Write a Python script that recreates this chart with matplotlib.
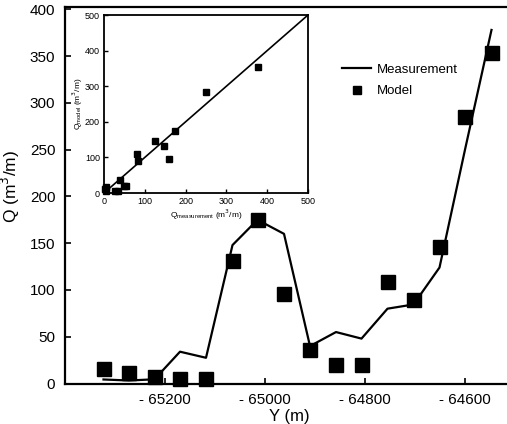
import matplotlib
matplotlib.use("Agg")
import matplotlib.pyplot as plt
from matplotlib.ticker import FuncFormatter, FixedLocator

plt.rcParams['font.family'] = ['Liberation Sans', 'DejaVu Sans']

# Data
y_pos = [-65323, -65272, -65221, -65170, -65118, -65065, -65015, -64962,
         -64910, -64858, -64807, -64755, -64703, -64651, -64600, -64547]
q_measurement = [4.3, 3.2, 4.5, 34, 27.5, 148, 175, 160,
                 40, 55, 48, 80, 84.5, 124, 250, 378]
q_model = [15.7, 10.7, 7, 5, 4.3, 131, 175, 95.5,
           35.6, 19.3, 19.3, 109, 88.8, 146, 285, 353]
x_ticks = [-65200, -65000, -64800, -64600]
y_ticks = [0, 50, 100, 150, 200, 250, 300, 350, 400]
inset_ticks = [0, 100, 200, 300, 400, 500]

W, H = 507, 424
fig = plt.figure(figsize=(W / 100, H / 100), dpi=100)

def px_axes(l, t, r, b):
    return [l / W, 1 - b / H, (r - l) / W, (b - t) / H]

ax = fig.add_axes(px_axes(65, 7.5, 514, 383.5))
ax.plot(y_pos, q_measurement, color='black', lw=1.6, label='Measurement')
ax.plot(y_pos, q_model, 's', color='black', ms=9.5, label='Model', clip_on=False)
ax.set_xlim(-65400, -64502)
ax.set_ylim(0, 402)
ax.xaxis.set_major_locator(FixedLocator(x_ticks))
ax.yaxis.set_major_locator(FixedLocator(y_ticks))
ax.xaxis.set_major_formatter(FuncFormatter(lambda v, p: ('- %d' % abs(v)) if v < 0 else '%d' % v))
ax.tick_params(direction='in', length=4, width=1.2, labelsize=11, pad=7)
for s in ax.spines.values():
    s.set_linewidth(1.6)
ax.set_xlabel('Y (m)', fontsize=12, labelpad=1)
ax.set_ylabel('Q (m$^3$/m)', fontsize=12.5)
ax.yaxis.set_label_coords(-0.096, 0.523)
leg = ax.legend(loc='upper left', bbox_to_anchor=(0.606, 0.865), frameon=False,
                fontsize=9.5, handlelength=2.2, handletextpad=0.45, labelspacing=0.7,
                borderaxespad=0, markerscale=0.6)

# Inset
axi = fig.add_axes(px_axes(104, 15, 308, 193))
axi.plot([0, 500], [0, 500], color='black', lw=1.2)
axi.plot(q_measurement, q_model, 's', color='black', ms=4.5, clip_on=False)
axi.set_xlim(0, 500)
axi.set_ylim(0, 500)
axi.xaxis.set_major_locator(FixedLocator(inset_ticks))
axi.yaxis.set_major_locator(FixedLocator(inset_ticks))
axi.tick_params(direction='in', length=3, width=1, labelsize=6.5, pad=3)
for s in axi.spines.values():
    s.set_linewidth(1.3)
axi.set_xlabel('Q$_{\\mathregular{measurement}}$ (m$^3$/m)', fontsize=6, labelpad=1)
axi.set_ylabel('Q$_{\\mathregular{model}}$ (m$^3$/m)', fontsize=6, labelpad=0)

fig.savefig('out.png', dpi=100)
